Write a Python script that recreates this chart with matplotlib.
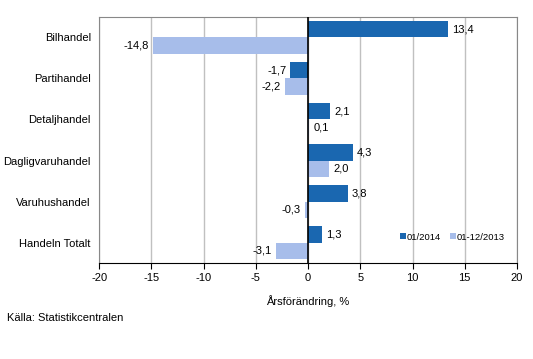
import matplotlib
matplotlib.use("Agg")
import matplotlib.pyplot as plt
import numpy as np

plt.rcParams['font.family'] = ['Liberation Sans', 'DejaVu Sans']

categories = ["Bilhandel", "Partihandel", "Detaljhandel", "Dagligvaruhandel",
              "Varuhushandel", "Handeln Totalt"]
jan_2014 = [13.4, -1.7, 2.1, 4.3, 3.8, 1.3]
year_2013 = [-14.8, -2.2, 0.1, 2.0, -0.3, -3.1]
series_names = ["01/2014", "01-12/2013"]
xticks = [-20, -15, -10, -5, 0, 5, 10, 15, 20]

dark = "#1a67b0"
light = "#a7bdea"
fs = 8

fig = plt.figure(figsize=(5.33, 3.59), dpi=100)
ax = fig.add_axes([0.186, 0.267, 0.784, 0.686])

y = np.arange(len(categories))
h = 0.4
ax.barh(y - h / 2, jan_2014, height=h, color=dark, label=series_names[0], zorder=3)
ax.barh(y + h / 2, year_2013, height=h, color=light, label=series_names[1], zorder=3)

def fmt(v):
    return ("%.1f" % v).replace(".", ",")

for yy, a, b in zip(y, jan_2014, year_2013):
    for v, off in ((a, -h / 2), (b, h / 2)):
        if v >= 0:
            ax.text(v + 0.4, yy + off, fmt(v), va="center", ha="left", fontsize=fs)
        else:
            ax.text(v - 0.4, yy + off, fmt(v), va="center", ha="right", fontsize=fs)

ax.set_xlim(-20, 20)
ax.set_ylim(len(categories) - 0.5, -0.5)
ax.set_xticks(xticks)
ax.set_xticklabels([str(t) for t in xticks], fontsize=fs)
ax.set_yticks(y)
ax.set_yticklabels(categories, fontsize=fs)
ax.tick_params(axis="y", length=0, pad=6)
ax.tick_params(axis="x", direction="out", length=4, color="black", pad=3)
ax.grid(axis="x", color="#c0c0c0", linewidth=1, zorder=0)
ax.axvline(0, color="black", linewidth=1.2, zorder=4)
for s in ("top", "left", "right"):
    ax.spines[s].set_color("#888888")
ax.spines["bottom"].set_color("black")

ax.set_xlabel("Årsförändring, %", fontsize=fs, labelpad=9)

leg = ax.legend(loc="center left", bbox_to_anchor=(0.72, 0.106), ncol=2, fontsize=6.8,
                frameon=False, handlelength=0.6, handleheight=0.6,
                handletextpad=0.15, columnspacing=0.9,
                borderaxespad=0, borderpad=0)

fig.text(0.013, 0.114, "Källa: Statistikcentralen", fontsize=fs, va="center")

fig.savefig("out.png", dpi=100)
